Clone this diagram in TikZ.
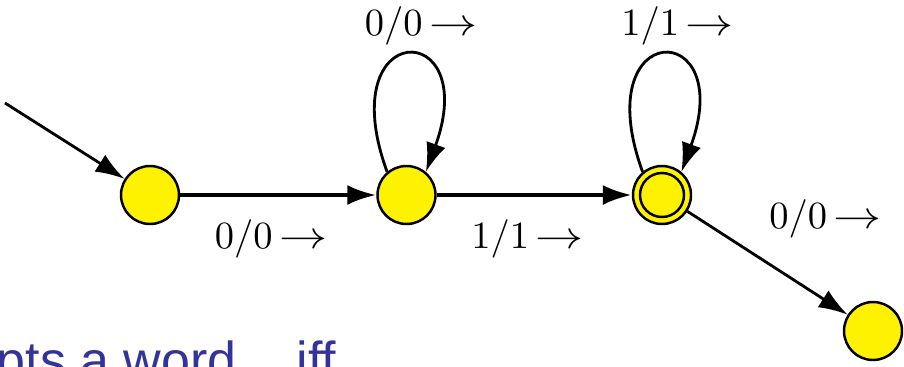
\documentclass[tikz,border=0pt]{standalone}
\usepackage{fontspec}
\newfontfamily\slidefont{Liberation Sans}
\usetikzlibrary{arrows.meta}
\definecolor{slideblue}{RGB}{51,51,153}
\newcommand{\trans}[1]{$#1$\,\scalebox{1.25}[1]{$\rightarrow$}}

\tikzset{
	state/.style={circle, draw=black, line width=0.7pt, fill=yellow, minimum size=5.8mm, inner sep=0pt},
	accept/.style={state, path picture={\draw[line width=0.7pt] (path picture bounding box.center) circle (2.2mm);}},
	edge/.style={-{Latex[length=2.9mm,width=2mm]}},
	lab/.style={font=\fontsize{11.3}{13}\selectfont, inner sep=0pt, anchor=base},
}

\begin{document}
\begin{tikzpicture}
		%%%%% START %%%%%
		\useasboundingbox (0, 0) rectangle (9.04, 3.66);
		
		\coordinate (start) at (0.05, 2.63);
		\node[state] (q0) at (1.5, 1.71) {};
		\node[state] (q1) at (4.065, 1.71) {};
		\node[accept] (q2) at (6.62, 1.71) {};
		\node[state] (q3) at (8.73, 0.35) {};
		
		\draw[edge, line width=0.8pt] (start) -- (q0);
		\draw[edge, line width=1.1pt] (q0) -- (q1);
		\draw[edge, line width=1.1pt] (q1) -- (q2);
		\draw[edge, line width=0.8pt] (q2) -- (q3);
		\draw[edge, line width=0.8pt] (q1.130) .. controls +(110:1.65) and +(70:1.65) .. (q1.50);
		\draw[edge, line width=0.8pt] (q2.130) .. controls +(110:1.65) and +(70:1.65) .. (q2.50);
		
		\node[lab] (l01) at (2.71, 1.18) {\trans{0/0}};
		\node[lab] (l11) at (4.21, 3.31) {\trans{0/0}};
		\node[lab] (l12) at (5.275, 1.18) {\trans{1/1}};
		\node[lab] (l22) at (6.775, 3.31) {\trans{1/1}};
		\node[lab] (l23) at (8.255, 1.38) {\trans{0/0}};
		
		\node[font=\slidefont\fontsize{14.8}{17}\selectfont, text=slideblue, anchor=base west, inner sep=0pt] (note) at (-0.04, -0.12) {pts a word\hspace{0.6cm}iff};
		%%%%% END %%%%%
	\end{tikzpicture}
\end{document}
